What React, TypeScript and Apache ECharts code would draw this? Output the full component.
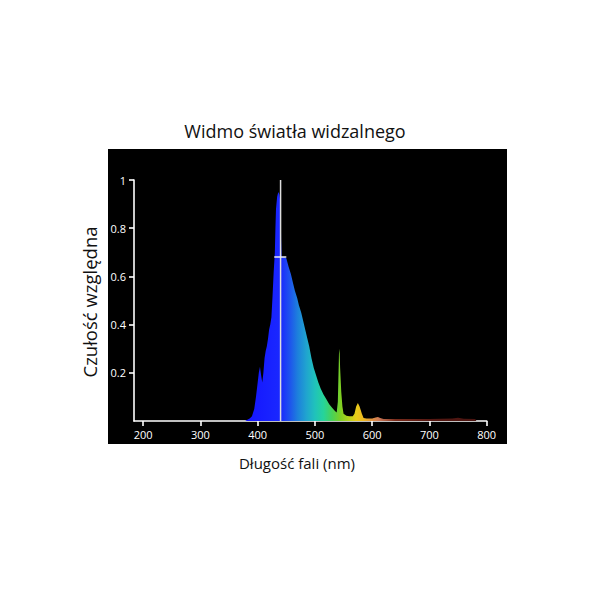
import React, { useEffect, useRef } from "react";
import * as echarts from "echarts";

// Spectrum data (wavelength nm, relative sensitivity)
const wavelengths = [
  378, 382, 386, 390, 394, 397, 400, 402, 404, 406, 408, 410, 412, 414, 416, 418, 420, 422, 424, 426,
  428, 430, 431, 432, 434, 436, 438, 440, 441, 442, 446, 450, 454, 458, 462, 465, 469, 472, 476, 479,
  483, 486, 490, 494, 498, 502, 506, 510, 515, 520, 525, 530, 535, 538, 540, 542, 543, 544, 546, 548,
  550, 555, 560, 566, 569, 572, 575, 578, 582, 585, 590, 600, 606, 610, 614, 620, 650, 700, 740, 750,
  760, 780, 782,
];
const sensitivity = [
  0, 0.005, 0.01, 0.02, 0.05, 0.1, 0.16, 0.2, 0.225, 0.19, 0.16, 0.2, 0.26, 0.29, 0.31, 0.34, 0.38, 0.4, 0.43, 0.52,
  0.62, 0.7, 0.8, 0.88, 0.93, 0.95, 0.94, 0.9, 0.75, 0.68, 0.68, 0.675, 0.64, 0.61, 0.57, 0.54, 0.51, 0.48, 0.45, 0.42,
  0.38, 0.35, 0.31, 0.26, 0.22, 0.19, 0.16, 0.135, 0.11, 0.09, 0.07, 0.055, 0.042, 0.035, 0.08, 0.28, 0.3, 0.22, 0.12, 0.06,
  0.03, 0.022, 0.02, 0.02, 0.03, 0.06, 0.075, 0.06, 0.03, 0.012, 0.01, 0.01, 0.015, 0.017, 0.012, 0.008, 0.008, 0.008, 0.01, 0.014,
  0.009, 0.008, 0,
];

// Marker lines
const peakLineX = [440, 440];
const peakLineY = [0, 1];
const halfLineX = [429, 450];
const halfLineY = [0.68, 0.68];

const xTicks = [200, 300, 400, 500, 600, 700, 800];
const yTicks = [0.2, 0.4, 0.6, 0.8, 1];

const title = "Widmo światła widzalnego";
const xName = "Długość fali (nm)";
const yName = "Czułość względna";

// Colour of the spectrum by wavelength
const colorNm = [378, 440, 455, 470, 485, 500, 515, 530, 545, 560, 572, 585, 600, 612, 640, 700, 782];
const colorHex = [
  "#1414ff", "#1a28ff", "#1e50ee", "#1d80dc", "#20a4cf", "#20c2bb", "#26d49a", "#48d258", "#7fcf22",
  "#b8d21c", "#e8cc18", "#eeb822", "#e09040", "#cc7a58", "#7a2c1c", "#561812", "#4a1410",
];

const FONT = "'Open Sans', 'Noto Sans', sans-serif";

export default function App() {
  const ref = useRef<HTMLDivElement>(null);
  useEffect(() => {
    if (!ref.current) return;
    const chart = echarts.init(ref.current, undefined, { renderer: "svg" });
    const lo = wavelengths[0];
    const hi = wavelengths[wavelengths.length - 1];
    const stops = colorNm.map((nm, i) => ({ offset: (nm - lo) / (hi - lo), color: colorHex[i] }));
    const gradient = new echarts.graphic.LinearGradient(0, 0, 1, 0, stops);
    chart.setOption({
      animation: false,
      backgroundColor: "#ffffff",
      title: {
        text: title,
        left: "center",
        top: 117,
        textStyle: { fontFamily: FONT, fontSize: 18, fontWeight: "normal", color: "#111" },
      },
      graphic: [
        {
          type: "rect",
          z: -100,
          shape: { x: 108, y: 149, width: 399, height: 295 },
          style: { fill: "#000000" },
        },
        {
          type: "text",
          x: 297,
          y: 463,
          style: {
            text: xName,
            fontFamily: FONT,
            fontSize: 15,
            fill: "#111",
            align: "center",
            verticalAlign: "middle",
          },
        },
        {
          type: "text",
          x: 89,
          y: 302,
          rotation: Math.PI / 2,
          style: {
            text: yName,
            fontFamily: FONT,
            fontSize: 18.5,
            fill: "#111",
            align: "center",
            verticalAlign: "middle",
          },
        },
      ],
      grid: { left: 134, top: 180, right: 103.3, bottom: 169 },
      xAxis: {
        type: "value",
        min: 184,
        max: 800,
        splitLine: { show: false },
        axisLine: { show: true, lineStyle: { color: "#fff", width: 1.6 } },
        axisTick: { show: true, length: 5, inside: false, customValues: xTicks, lineStyle: { color: "#fff", width: 1.6 } },
        axisLabel: { customValues: xTicks, color: "#fff", fontSize: 11, fontFamily: FONT, margin: 8 },
      },
      yAxis: {
        type: "value",
        min: 0,
        max: 1,
        splitLine: { show: false },
        axisLine: { show: true, lineStyle: { color: "#fff", width: 1.6 } },
        axisTick: { show: true, length: 5, customValues: yTicks, lineStyle: { color: "#fff", width: 1.6 } },
        axisLabel: {
          customValues: yTicks,
          color: "#fff",
          fontSize: 11,
          fontFamily: FONT,
          margin: 8,
          formatter: (v: number) => (v === 1 ? "1" : String(+v.toFixed(1))),
        },
      },
      series: [
        {
          type: "line",
          data: wavelengths.map((w, i) => [w, sensitivity[i]]),
          showSymbol: false,
          symbol: "none",
          lineStyle: { width: 0 },
          areaStyle: { color: gradient, opacity: 1 },
          z: 2,
        },
        {
          type: "line",
          data: peakLineX.map((x, i) => [x, peakLineY[i]]),
          showSymbol: false,
          symbol: "none",
          lineStyle: { color: "#dedede", width: 1.5 },
          z: 3,
        },
        {
          type: "line",
          data: halfLineX.map((x, i) => [x, halfLineY[i]]),
          showSymbol: false,
          symbol: "none",
          lineStyle: { color: "#eeeeee", width: 1.5 },
          z: 3,
        },
      ],
    });
    return () => chart.dispose();
  }, []);
  return (
    <div
      ref={ref}
      style={{ position: "absolute", left: 0, top: 0, width: 590, height: 590 }}
    />
  );
}
